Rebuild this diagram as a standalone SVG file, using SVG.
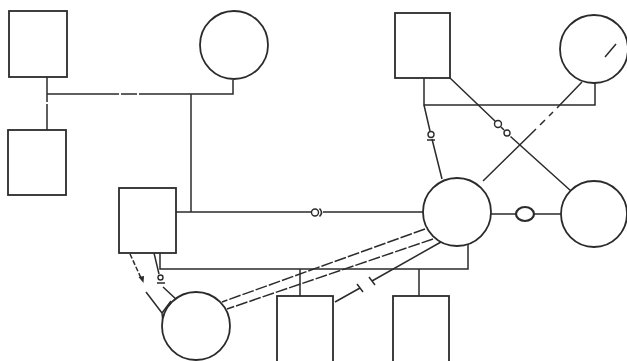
<svg xmlns="http://www.w3.org/2000/svg" width="627" height="361" viewBox="0 0 627 361">
<style>
.n{fill:#fff;stroke:#2b2b2b;stroke-width:1.8}
.c{fill:none;stroke:#2b2b2b;stroke-width:1.5}
.d{fill:none;stroke:#2b2b2b;stroke-width:1.5;stroke-dasharray:12 2}
.s{fill:#fff;stroke:#2b2b2b;stroke-width:1.4}
</style>
<rect width="627" height="361" fill="#fff"/>
<g id="connectors">
<path class="c" d="M47,77 V102 M47,104 V130"/>
<path class="c" d="M47,94 H119 M121,94 H137 M139,94 H233 V80"/>
<path class="c" d="M191,94 V212"/>
<path class="c" d="M176,212 H311.5 M323,212 H423"/>
<circle class="s" cx="315" cy="212.5" r="3.5"/>
<path class="c" d="M319.5,208.5 Q323.5,212.5 319.5,216.5"/>
<path class="c" d="M491,214 H516 M534,214 H561"/>
<ellipse cx="525" cy="214" rx="9" ry="7" fill="#fff" stroke="#2b2b2b" stroke-width="2.2"/>
<path class="c" d="M424,78 V105 H595 V83"/>
<path class="c" d="M424,105 L430,131 M432,139 L442,179"/>
<circle class="s" cx="431" cy="134.5" r="3"/>
<path class="c" d="M427,140 H435"/>
<path class="c" d="M450,78 L495.5,121.5 M501,127 L504,130 M510.5,136.5 L571,191"/>
<circle class="s" cx="498" cy="124" r="3.5"/>
<circle class="s" cx="507" cy="133" r="3"/>
<path class="c" d="M582,82 L557,108 M553,112 L549,116 M545,120 L540,125 M536,129 L483,181"/>
<path class="c" d="M160,253 V269 H468 V244"/>
<path class="c" d="M300,269 V296 M419,269 V296"/>
<path class="d" d="M425,229 L222,302"/>
<path class="d" d="M433,239 L227,309"/>
<path class="c" d="M441,242 L372,281 M369,277 L375,285"/>
<path class="c" d="M360,288 L335,302 M357,284 L363,292"/>
<path class="c" d="M130,254 L141,278" stroke-dasharray="5 2"/>
<polygon points="143.5,283 138.5,277 144,276" fill="#2b2b2b"/>
<path class="c" d="M154,253 L159,274 M157,283 H165 M163,287 L177,300"/>
<circle class="s" cx="160.5" cy="277.5" r="2.5"/>
<path class="c" d="M146,292 L162,313 M171,301 L162,313 L163,322"/>
</g>
<g id="nA"><rect class="n" x="9" y="11" width="58" height="66"/></g>
<g id="nB"><rect class="n" x="8" y="130" width="58" height="65"/></g>
<g id="nC"><circle class="n" cx="234" cy="45" r="34"/></g>
<g id="nD"><rect class="n" x="119" y="188" width="57" height="65"/></g>
<g id="nG"><rect class="n" x="395" y="13" width="55" height="65"/></g>
<g id="nH"><circle class="n" cx="594" cy="49" r="34"/><path class="c" d="M605,57 L616,44"/></g>
<g id="nE"><circle class="n" cx="457" cy="212" r="34"/></g>
<g id="nF"><circle class="n" cx="594" cy="214" r="33"/></g>
<g id="nK"><circle class="n" cx="196" cy="326" r="34"/></g>
<g id="nI"><rect class="n" x="277" y="296" width="56" height="72"/></g>
<g id="nJ"><rect class="n" x="393" y="296" width="56" height="72"/></g>
</svg>
